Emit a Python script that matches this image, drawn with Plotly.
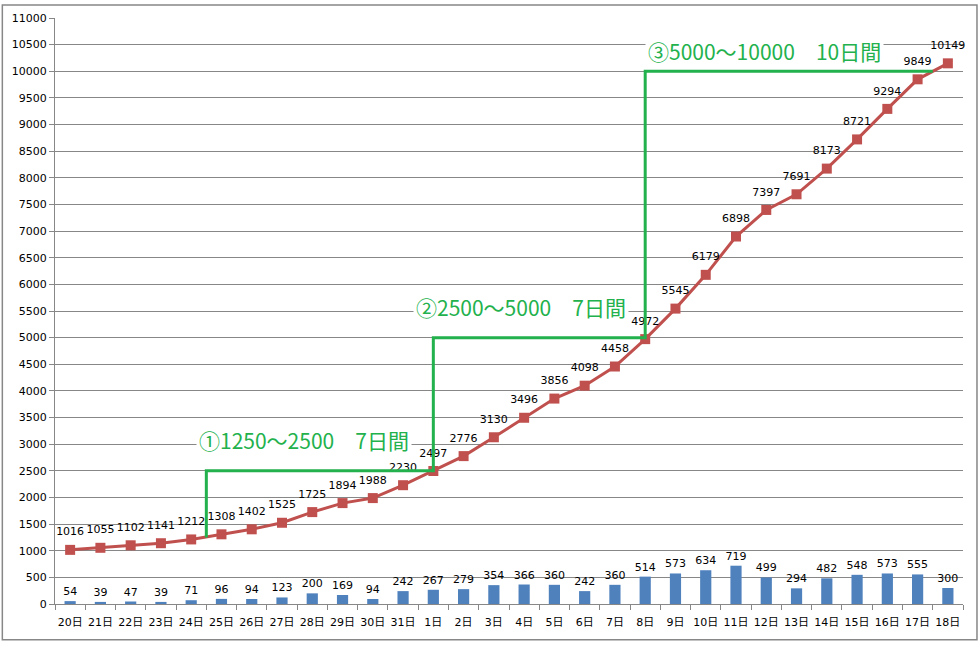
import plotly.graph_objects as go

days = ["20日", "21日", "22日", "23日", "24日", "25日", "26日", "27日", "28日", "29日",
        "30日", "31日", "1日", "2日", "3日", "4日", "5日", "6日", "7日", "8日",
        "9日", "10日", "11日", "12日", "13日", "14日", "15日", "16日", "17日", "18日"]
cumulative = [1016, 1055, 1102, 1141, 1212, 1308, 1402, 1525, 1725, 1894,
              1988, 2230, 2497, 2776, 3130, 3496, 3856, 4098, 4458, 4972,
              5545, 6179, 6898, 7397, 7691, 8173, 8721, 9294, 9849, 10149]
daily = [54, 39, 47, 39, 71, 96, 94, 123, 200, 169,
         94, 242, 267, 279, 354, 366, 360, 242, 360, 514,
         573, 634, 719, 499, 294, 482, 548, 573, 555, 300]

# milestone step lines (x in category index units, y in case counts)
step_x = [4.5, 12, 19, 28.5]
step_y = [1250, 2500, 5000, 10000]
step_labels = ["①1250～2500　7日間", "②2500～5000　7日間", "③5000～10000　10日間"]
label_x = [7.72, 14.88, 22.93]
label_y = [3080, 5580, 10390]

x = list(range(len(days)))
GREEN = "#22B14C"
GRID = "#878787"
FONT = "DejaVu Sans, Noto Sans CJK JP"

fig = go.Figure()
fig.add_trace(go.Bar(
    x=x, y=daily, width=0.37, marker=dict(color="#4F81BD", line=dict(width=0)),
    text=[str(v) for v in daily], textposition="outside", cliponaxis=False,
    constraintext="none",
    textfont=dict(family=FONT, size=11, color="#000000"), showlegend=False,
))
fig.add_trace(go.Scatter(
    x=x, y=cumulative, mode="lines+markers",
    line=dict(color="#C0504D", width=3),
    marker=dict(symbol="square", size=10, color="#C0504D"),
    cliponaxis=False, showlegend=False,
))
# data labels for the cumulative line (transparent markers give extra offset)
fig.add_trace(go.Scatter(
    x=x, y=cumulative, mode="markers+text",
    marker=dict(symbol="square", size=17, color="rgba(0,0,0,0)"),
    text=[str(v) for v in cumulative], textposition="top center", cliponaxis=False,
    textfont=dict(family=FONT, size=11, color="#000000"), showlegend=False,
    hoverinfo="skip",
))

# green step path
path = f"M {step_x[0]},{step_y[0]}"
for i in range(1, len(step_x)):
    path += f" L {step_x[i-1]},{step_y[i]} L {step_x[i]},{step_y[i]}"
shapes = [dict(type="path", path=path, xref="x", yref="y",
               line=dict(color=GREEN, width=3), layer="above")]
# outer border
shapes.append(dict(type="rect", xref="paper", yref="paper",
                   x0=-0.058, x1=1.0154, y0=-0.061, y1=1.022,
                   line=dict(color="#878787", width=1.5), layer="below"))

annotations = []
for t, ax_, ay_ in zip(step_labels, label_x, label_y):
    annotations.append(dict(x=ax_, y=ay_, xref="x", yref="y", text=t, showarrow=False,
                            font=dict(family="Noto Sans CJK JP", size=21, color=GREEN),
                            bgcolor="white", borderpad=2))

fig.update_layout(
    width=980, height=652,
    margin=dict(l=54, r=17, t=14, b=48),
    paper_bgcolor="white", plot_bgcolor="white",
    shapes=shapes, annotations=annotations,
    font=dict(family=FONT, size=11, color="#000000"),
    bargap=0.6,
    xaxis=dict(
        range=[-0.5, 29.5], tickmode="array", tickvals=x, ticktext=days,
        ticks="", showgrid=False, zeroline=False,
        showline=True, linecolor=GRID, linewidth=1,
        tickfont=dict(family=FONT, size=11, color="#000000"),
        ticklabelstandoff=8,
        minor=dict(tickmode="array", tickvals=[i - 0.5 for i in range(len(days) + 1)],
                   ticks="outside", ticklen=5, tickcolor=GRID, tickwidth=1, showgrid=False),
    ),
    yaxis=dict(
        range=[0, 11000], dtick=500, tick0=0, tickformat="d",
        ticks="outside", ticklen=5, tickcolor=GRID,
        showgrid=True, gridcolor=GRID, gridwidth=1,
        zeroline=False, showline=True, linecolor=GRID, linewidth=1,
        tickfont=dict(family=FONT, size=11, color="#000000"),
    ),
)

fig.write_html("out.html")
